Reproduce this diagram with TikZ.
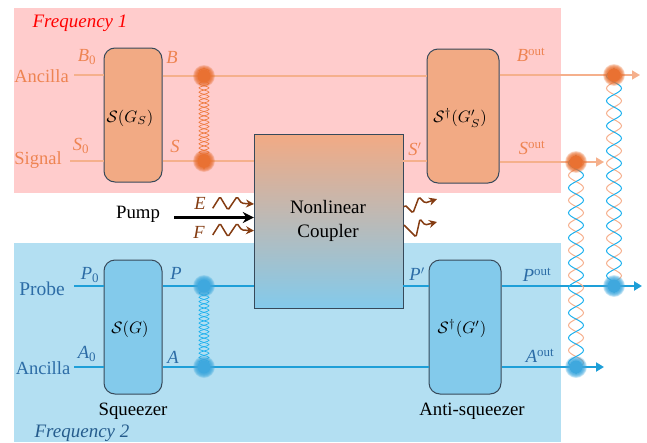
\documentclass[tikz,border=0pt]{standalone}
\usepackage{fontspec}
\setmainfont{Liberation Serif}
\usetikzlibrary{decorations.pathmorphing,arrows.meta}
\definecolor{pinkbg}{HTML}{FFCCCC}
\definecolor{bluebg}{HTML}{B3DFF2}
\definecolor{orbox}{HTML}{F2AA84}
\definecolor{blbox}{HTML}{83CAEB}
\definecolor{orline}{HTML}{F5B08C}
\definecolor{orfull}{HTML}{E97132}
\definecolor{ortext}{HTML}{EE8452}
\definecolor{blline}{HTML}{1E9FD8}
\definecolor{bldotc}{HTML}{3FA8DE}
\definecolor{bltext}{HTML}{2C6CA6}
\definecolor{helixblue}{HTML}{1DB1EE}
\definecolor{helixor}{HTML}{F6B08E}
\definecolor{helixorb}{HTML}{EE7B3F}
\definecolor{wave}{HTML}{843C12}
\definecolor{edge}{HTML}{37495A}
\newcommand{\fs}[1]{\fontsize{#1}{#1}\selectfont}
\newcommand{\glowdot}[2]{%
  \foreach \rr in {11,10.5,10,9.5,9,8.5,8,7.5,7}{\fill[#2,fill opacity=.2] (#1) circle (\rr pt);}
  \fill[#2] (#1) circle (6.5pt);}
\tikzset{
  gate/.style={draw=edge,line width=1pt,rounded corners=11pt,inner sep=0pt,minimum height=134pt},
  orgate/.style={gate,fill=orbox,minimum width=#1},
  blgate/.style={gate,fill=blbox,minimum width=#1},
  mathtxt/.style={scale=1.65,text=black},
  ortxt/.style={text=ortext,inner sep=0pt,font=\fs{18.5}},
  bltxt/.style={text=bltext,inner sep=0pt,font=\fs{18.5}},
  blktxt/.style={text=black,inner sep=0pt,font=\fs{18.8}},
  wvtxt/.style={text=wave,inner sep=0pt,font=\fs{18.5}\itshape},
  freqtxt/.style={inner sep=0pt,font=\fs{19}\itshape},
  orwire/.style={draw=orline,line width=1.5pt},
  blwire/.style={draw=blline,line width=2pt},
  tipwire/.style={-{Triangle[length=8pt,width=9pt]}},
  smallhelix/.style={line width=.7pt,decorate,decoration={snake,segment length=8.6pt,amplitude=5pt}},
  smallhelixm/.style={line width=.7pt,decorate,decoration={snake,segment length=8.6pt,amplitude=5pt,mirror}},
  bighelix/.style={line width=1pt,decorate,decoration={snake,segment length=25pt,amplitude=7.5pt}},
  bighelixm/.style={line width=1pt,decorate,decoration={snake,segment length=25pt,amplitude=7.5pt,mirror}},
  wiggle/.style={draw=wave,line width=1.5pt,rounded corners=1.5pt,-{Stealth[length=8pt,width=8pt]}},
}
\begin{document}
\begin{tikzpicture}[x=1pt,y=-1pt]
\useasboundingbox (0,0) rectangle (647,442);
\fill[pinkbg] (14,8) rectangle (561,193);
\fill[bluebg] (14,243) rectangle (561,442);

% gates
\node[orgate=58pt] (g1) at (133,115) {};
\node[orgate=72pt] (g2) at (463,116) {};
\node[blgate=58pt] (g3) at (133,327) {};
\node[blgate=72pt] (g4) at (465,327) {};
\node[mathtxt] (mg1) at (130,118) {$\mathcal{S}(G_S)$};
\node[mathtxt] (mg2) at (460,118) {$\mathcal{S}^\dagger(G_S')$};
\node[mathtxt] (mg3) at (130,329) {$\mathcal{S}(G)$};
\node[mathtxt] (mg4) at (462,329) {$\mathcal{S}^\dagger(G')$};

% coupler
\shade[top color=orbox,bottom color=blbox,draw=edge,line width=1pt] (254,134) rectangle (403,308);
\node[inner sep=0pt,minimum width=149pt,minimum height=174pt] (nc) at (328.5,221) {};
\node[align=center,text=black,font=\fs{19},inner sep=0pt] (nctext) at (328,221) {Nonlinear\\[5pt]Coupler};

% dots
\coordinate (dA) at (204,76);
\coordinate (dS) at (204,161);
\coordinate (dP) at (204,286);
\coordinate (dN) at (204,367);
\coordinate (oB) at (614,75);
\coordinate (oS) at (576,162);
\coordinate (oP) at (614,286);
\coordinate (oN) at (576,367);

% wire ends
\coordinate (i1) at (74,75);
\coordinate (i2) at (70,161);
\coordinate (i3) at (74,286);
\coordinate (i4) at (74,367);
\coordinate (e1) at (640,75);
\coordinate (e2) at (604,162);
\coordinate (e3) at (642,286);
\coordinate (e4) at (604,367);

% wires
\draw[orwire] (i1) -- (i1 -| g1.west);
\draw[orwire] (i2) -- (i2 -| g1.west);
\draw[orwire] (g1.east |- dA) -- (dA) -- (dA -| g2.west);
\draw[orwire] (g1.east |- dS) -- (dS) -- (dS -| nc.west);
\draw[orwire] (dS -| nc.east) -- (dS -| g2.west);
\draw[orwire,tipwire] (g2.east |- oB) -- (e1);
\draw[orwire,tipwire] (g2.east |- oS) -- (e2);
\draw[blwire] (i3) -- (i3 -| g3.west);
\draw[blwire] (i4) -- (i4 -| g3.west);
\draw[blwire] (g3.east |- dP) -- (dP) -- (dP -| nc.west);
\draw[blwire] (g3.east |- dN) -- (dN) -- (dN -| g4.west);
\draw[blwire] (dP -| nc.east) -- (dP -| g4.west);
\draw[blwire,tipwire] (g4.east |- oP) -- (e3);
\draw[blwire,tipwire] (g4.east |- oN) -- (e4);

% helices
\draw[smallhelix,draw=helixorb] ([yshift=8pt]dA) -- ([yshift=-8pt]dS);
\draw[smallhelixm,draw=helixorb] ([yshift=8pt]dA) -- ([yshift=-8pt]dS);
\draw[smallhelix,draw=helixblue] (dP) -- (dN);
\draw[smallhelixm,draw=helixblue] (dP) -- (dN);
\draw[bighelix,draw=helixor] ([yshift=7pt]oS) -- ([yshift=-7pt]oN);
\draw[bighelixm,draw=helixblue] ([yshift=7pt]oS) -- ([yshift=-7pt]oN);
\draw[bighelix,draw=helixor] ([yshift=7pt]oB) -- ([yshift=-7pt]oP);
\draw[bighelixm,draw=helixblue] ([yshift=7pt]oB) -- ([yshift=-7pt]oP);

\glowdot{dA}{orfull}
\glowdot{dS}{orfull}
\glowdot{dP}{bldotc}
\glowdot{dN}{bldotc}
\glowdot{oB}{orfull}
\glowdot{oS}{orfull}
\glowdot{oP}{bldotc}
\glowdot{oN}{bldotc}

% pump
\coordinate (pumpstart) at (174,217.5);
\draw[line width=3pt,-{Stealth[length=11pt,width=11pt]}] (pumpstart) -- (pumpstart -| nc.west);
\draw[wiggle] (212.7,208.3) -- (220,196.7) -- (228,210) -- (237,196.7) -- (241.7,203.3) -- (254,204);
\draw[wiggle] (212.7,235) -- (220,223.4) -- (228,236.7) -- (237,223.4) -- (241.7,230) -- (254,230.7);
\draw[wiggle] (404,207) -- (405,205) -- (413,213) -- (419,197) -- (425,203) -- (437,199);
\draw[wiggle] (404,225) -- (416,237) -- (420,219) -- (425,225) -- (437,222);

% texts
\node[freqtxt,text=red] (f1) at (80,23) {Frequency 1};
\node[freqtxt,text=bltext!85!black] (f2) at (82,433) {Frequency 2};
\node[ortxt] (tanc1) at (41.5,76) {Ancilla};
\node[ortxt] (tsig) at (38,160) {Signal};
\node[bltxt,font=\fs{19.5}] (tprobe) at (42,289) {Probe};
\node[bltxt] (tanc2) at (43,368) {Ancilla};
\node[ortxt] (lb0) at (87,57) {\textit{B}\textsubscript{0}};
\node[ortxt] (lb) at (172,57) {\textit{B}};
\node[ortxt] (ls0) at (81,146) {\textit{S}\textsubscript{0}};
\node[ortxt] (ls) at (175,146) {\textit{S}};
\node[ortxt] (lsp) at (415,149) {\textit{S}$'$};
\node[ortxt] (lbo) at (531,55) {\textit{B}\textsuperscript{out}};
\node[ortxt] (lso) at (532,148) {\textit{S}\textsuperscript{out}};
\node[bltxt] (lp0) at (90,275) {\textit{P}\textsubscript{0}};
\node[bltxt] (lp) at (176,273) {\textit{P}};
\node[bltxt] (la0) at (87,354) {\textit{A}\textsubscript{0}};
\node[bltxt] (la) at (173,357) {\textit{A}};
\node[bltxt] (lpp) at (417,274) {\textit{P}$'$};
\node[bltxt] (lpo) at (537,275) {\textit{P}\textsuperscript{out}};
\node[bltxt] (lao) at (540,356) {\textit{A}\textsuperscript{out}};
\node[wvtxt] (le) at (200,203) {E};
\node[wvtxt] (lf) at (199,232) {F};
\node[blktxt] (tpump) at (138,214) {Pump};
\node[blktxt] (tsq) at (133,411) {Squeezer};
\node[blktxt] (tasq) at (472,411) {Anti-squeezer};
\end{tikzpicture}
\end{document}
